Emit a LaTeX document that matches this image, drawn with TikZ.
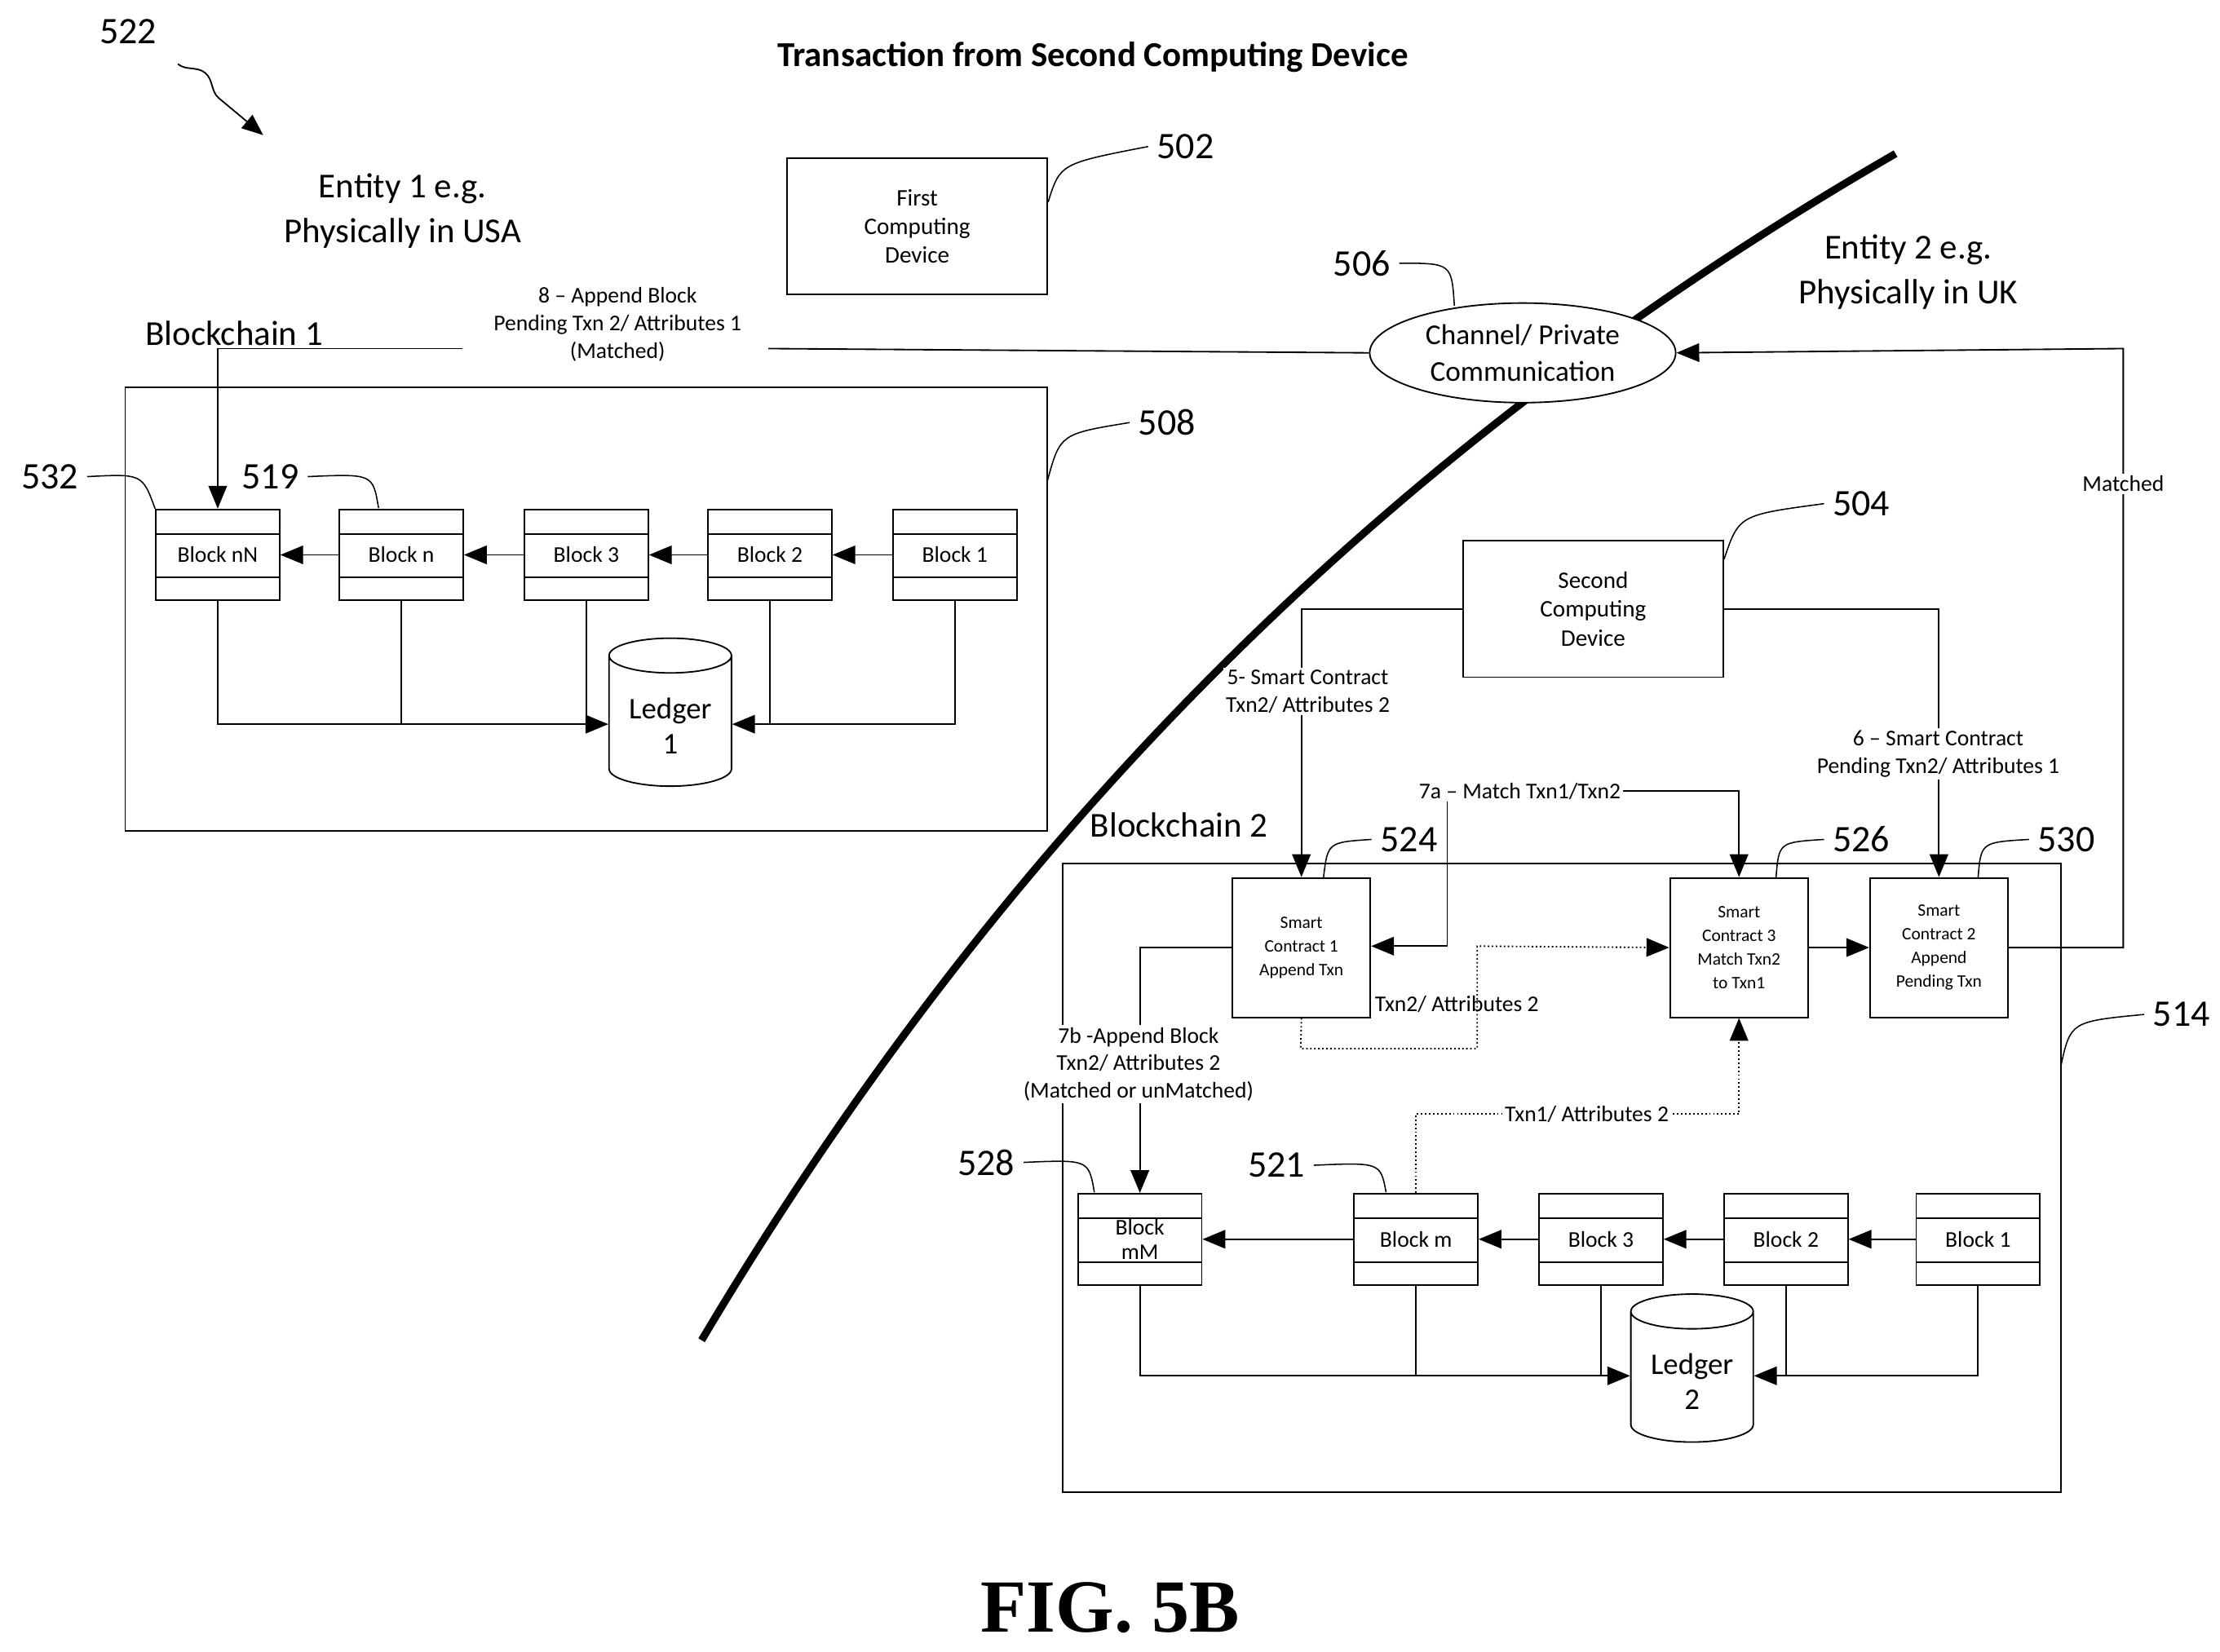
\documentclass[tikz,border=0pt]{standalone}
\usepackage{fontspec}
\setmainfont{Carlito}
\newfontfamily\figfont{Liberation Serif}
\usetikzlibrary{arrows.meta,shapes.geometric,calc,decorations.pathmorphing}

\tikzset{
  box/.style={draw, line width=0.6pt, align=center, font=\fontsize{9.5}{11.5}\selectfont},
  sc/.style={draw, line width=0.6pt, align=center, minimum width=19.4mm, minimum height=19.6mm, font=\fontsize{7}{9.5}\selectfont},
  block/.style={draw, line width=0.6pt, minimum width=17.4mm, minimum height=12.8mm, align=center,
    font=\fontsize{9}{10}\selectfont,
    path picture={
      \draw ($(path picture bounding box.north west)!0.27!(path picture bounding box.south west)$) -- ($(path picture bounding box.north east)!0.27!(path picture bounding box.south east)$);
      \draw ($(path picture bounding box.north west)!0.75!(path picture bounding box.south west)$) -- ($(path picture bounding box.north east)!0.75!(path picture bounding box.south east)$);}},
  ledger/.style={draw, line width=0.6pt, cylinder, shape border rotate=90, aspect=0.35, minimum width=17.2mm, minimum height=20.8mm, align=center, font=\fontsize{12}{14}\selectfont},
  num/.style={font=\fontsize{15}{17}\selectfont},
  lbl/.style={font=\fontsize{9}{11}\selectfont, align=center, fill=white, inner sep=1pt},
  big/.style={font=\fontsize{14}{18}\selectfont, align=center},
  conn/.style={line width=0.6pt},
  arr/.style={line width=0.6pt, -{Triangle[length=3.2mm, width=2.6mm]}},
  dots/.style={line width=0.6pt, densely dotted},
  lead/.style={line width=0.5pt}
}

\begin{document}
\begin{tikzpicture}[x=0.2mm, y=-0.2mm]
  \useasboundingbox (0,0) rectangle (1560,1161);

  % Title and labels
  \node[font=\bfseries\fontsize{14}{16}\selectfont] (title) at (768,40) {Transaction from Second Computing Device};
  \node[num] (n522) at (90,22) {522};
  \coordinate (sq1) at (125,45);
  \coordinate (sq2) at (185,95);
  \draw[line width=0.6pt, -{Triangle[length=3mm, width=2.4mm]}, decorate, decoration={snake, amplitude=1.5mm, segment length=12mm, post length=3mm}] (sq1) -- (sq2);
  \node[big] (ent1) at (283,148) {Entity 1 e.g.\\Physically in USA};
  \node[big] (ent2) at (1341,191) {Entity 2 e.g.\\Physically in UK};

  % Boundary curve
  \coordinate (bd1) at (493,942);
  \coordinate (bd2) at (1332,108);
  \draw[line width=3pt] (bd1) .. controls (720,560) and (1000,300) .. (bd2);

  % Computing devices and channel
  \node[box, minimum width=36.6mm, minimum height=19.2mm] (first) at (644.5,159) {First\\Computing\\Device};
  \node[box, minimum width=36.6mm, minimum height=19.2mm] (second) at (1119.5,428) {Second\\Computing\\Device};
  \node[draw, line width=0.6pt, ellipse, fill=white, minimum width=43mm, minimum height=14mm, align=center, inner sep=0pt, font=\fontsize{11.5}{14.5}\selectfont] (chan) at (1070,248) {Channel/ Private\\Communication};

  \node[num] (n502) at (833,103) {502};
  \draw[lead] (first.north east |- 0,142) .. controls (745,115) .. (n502.west);
  \node[num] (n506) at (957,185) {506};
  \draw[lead] (n506.east) .. controls (1020,185) .. (1022,215);
  \node[num] (n504) at (1308,354) {504};
  \draw[lead] (second.north east |- 0,393) .. controls (1222,362) .. (n504.west);

  % Blockchain 1
  \node[big, anchor=west] (bc1lbl) at (96,234) {Blockchain 1};
  \node[draw, line width=0.6pt, minimum width=129.6mm, minimum height=62.4mm] (bc1) at (412,428) {};
  \node[num] (n508) at (820,297) {508};
  \draw[lead] (736,338) .. controls (745,305) .. (n508.west);

  \node[block] (b1nN) at (153,390) {Block nN};
  \node[block] (b1n) at (282,390) {Block n};
  \node[block] (b13) at (412,390) {Block 3};
  \node[block] (b12) at (541,390) {Block 2};
  \node[block] (b11) at (671,390) {Block 1};
  \node[ledger] (led1) at (471,510) {Ledger\\1};

  \draw[arr] (b11) -- (b12);
  \draw[arr] (b12) -- (b13);
  \draw[arr] (b13) -- (b1n);
  \draw[arr] (b1n) -- (b1nN);

  \draw[arr] (b1nN.south) |- (led1.west |- 0,509);
  \draw[conn] (b1n.south) -- (b1n.south |- 0,509);
  \draw[conn] (b13.south) -- (b13.south |- 0,509);
  \draw[arr] (b11.south) |- (led1.east |- 0,509);
  \draw[conn] (b12.south) -- (b12.south |- 0,509);

  \node[num] (n532) at (35,335) {532};
  \draw[lead] (n532.east) .. controls (100,333) .. (b1nN.north west);
  \node[num] (n519) at (190,335) {519};
  \draw[lead] (n519.east) .. controls (262,333) .. (266,357);

  % Step 8
  \coordinate (c8) at (153,245);
  \draw[conn] (chan.west) -- (540,245);
  \node[lbl] (l8) at (434,228) {8 -- Append Block\\Pending Txn 2/ Attributes 1\\(Matched)};
  \draw[arr] (325,245) -- (c8) -- (b1nN.north);

  % Blockchain 2
  \node[big, anchor=west] (bc2lbl) at (760,580) {Blockchain 2};
  \node[draw, line width=0.6pt, minimum width=140.2mm, minimum height=88.4mm] (bc2) at (1097.5,828) {};
  \node[num] (n514) at (1533,713) {514};
  \draw[lead] (1448,750) .. controls (1455,718) .. (n514.west);

  \node[sc] (sc1) at (914.5,666) {Smart\\Contract 1\\Append Txn};
  \node[sc] (sc3) at (1222,666) {Smart\\Contract 3\\Match Txn2\\to Txn1};
  \node[sc] (sc2) at (1362.5,666) {Smart\\Contract 2\\Append\\Pending Txn};
  \node[num] (n524) at (990,590) {524};
  \draw[lead] (930,617) .. controls (933,592) .. (n524.west);
  \node[num] (n526) at (1308,590) {526};
  \draw[lead] (1248,617) .. controls (1250,592) .. (n526.west);
  \node[num] (n530) at (1452,590) {530};
  \draw[lead] (1390,617) .. controls (1392,592) .. (n530.west);

  % Steps 5 and 6
  \draw[arr] (second.west) -| (sc1.north);
  \node[lbl] (l5) at (919,486) {5- Smart Contract\\Txn2/ Attributes 2};
  \draw[arr] (second.east) -| (sc2.north);
  \node[lbl] (l6) at (1362,530) {6 -- Smart Contract\\Pending Txn2/ Attributes 1};

  % Step 7a
  \coordinate (c7a) at (1017,556);
  \draw[arr] (c7a) -- (1017,665) -- (sc1.east |- 0,665);
  \draw[arr] (c7a) -| (sc3.north);
  \node[lbl] (l7a) at (1068,556) {7a -- Match Txn1/Txn2};

  \coordinate (d1) at (914,737);
  \coordinate (d2) at (1038,737);
  \draw[dots, -{Triangle[length=3.2mm, width=2.6mm]}] (sc1.south) -- (d1) -- (d2) -- (1038,665) -- (sc3.west);
  \node[lbl, anchor=west, fill=none] (ldot) at (964,706) {Txn2/ Attributes 2};
  \draw[arr] (sc3) -- (sc2);

  % Matched
  \coordinate (cm) at (1492,245);
  \draw[arr] (sc2.east) -| (cm) -- (chan.east);
  \node[lbl] (lm) at (1492,340) {Matched};

  % Blocks of blockchain 2
  \node[block] (b2mM) at (801,871) {Block\\mM};
  \node[block] (b2m) at (995,871) {Block m};
  \node[block] (b23) at (1125,871) {Block 3};
  \node[block] (b22) at (1255,871) {Block 2};
  \node[block] (b21) at (1390,871) {Block 1};
  \node[ledger] (led2) at (1189,971) {Ledger\\2};

  \draw[arr] (b21) -- (b22);
  \draw[arr] (b22) -- (b23);
  \draw[arr] (b23) -- (b2m);
  \draw[arr] (b2m) -- (b2mM);

  % Step 7b
  \draw[arr] (sc1.west) -| (b2mM.north);
  \node[lbl] (l7b) at (800,748) {7b -Append Block\\Txn2/ Attributes 2\\(Matched or unMatched)};

  \coordinate (e1) at (995,783);
  \draw[dots, -{Triangle[length=3.2mm, width=2.6mm]}] (b2m.north) -- (e1) -| (sc3.south);
  \node[lbl] (le) at (1115,783) {Txn1/ Attributes 2};

  \draw[arr] (b2mM.south) |- (led2.west |- 0,967);
  \draw[conn] (b2m.south) -- (b2m.south |- 0,967);
  \draw[conn] (b23.south) -- (b23.south |- 0,967);
  \draw[arr] (b21.south) |- (led2.east |- 0,967);
  \draw[conn] (b22.south) -- (b22.south |- 0,967);

  \node[num] (n528) at (693,817) {528};
  \draw[lead] (n528.east) .. controls (765,815) .. (769,838);
  \node[num] (n521) at (897,819) {521};
  \draw[lead] (n521.east) .. controls (970,817) .. (974,838);

  \node[font=\figfont\bfseries\fontsize{30}{34}\selectfont] (fig) at (780,1130) {FIG. 5B};
\end{tikzpicture}
\end{document}
